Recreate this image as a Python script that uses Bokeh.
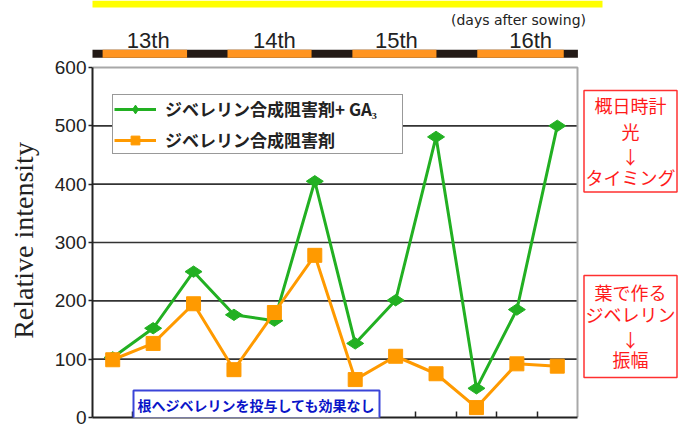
import math
from bokeh.plotting import figure
from bokeh.models import (Range1d, FixedTicker, Legend, LegendItem, Label,
                          ColumnDataSource)
from bokeh.core.properties import value
from bokeh.embed import file_html
from bokeh.resources import INLINE

# ---------------- data ----------------
series_ga3_label = "ジベレリン合成阻害剤+ GA₃"
series_inh_label = "ジベレリン合成阻害剤"
sample_index = list(range(12))
ga3_values = [103, 153, 250, 176, 166, 405, 127, 201, 481, 50, 185, 500]
inhibitor_values = [99, 127, 195, 82, 180, 278, 65, 105, 75, 17, 92, 88]
y_ticks = [0, 100, 200, 300, 400, 500, 600]
grid_ticks = [100, 200, 300, 400, 500]
boundary_ticks = [1, 2, 3, 4, 5, 6, 7, 8, 9, 10, 11]
day_labels = ["13th", "14th", "15th", "16th"]
day_label_pos = [1.38, 4.50, 7.52, 10.84]
light_on = [0.25, 3.34, 6.43, 9.52]
light_off = [2.34, 5.42, 8.51, 11.66]
bar_start, bar_end = -0.04, 12.01
note_lines_1 = ["概日時計", "光", "↓", "タイミング"]
note_lines_2 = ["葉で作る", "ジベレリン", "↓", "振幅"]
note_bottom = "根へジベレリンを投与しても効果なし"
y_axis_title = "Relative intensity"

GREEN = "#22b022"
ORANGE = "#ff9a00"
DARK = "#231a16"
RED = "#ff1a1a"

# ---------------- geometry (pixels) ----------------
W, H = 678, 429
LEFT = 92                 # left border for the y axis
BOTTOM = 12               # border below the zero line
FW, FH = W - LEFT, H - BOTTOM
PX_X = 485 / 12.0         # pixels per sample slot
PX_Y = 350 / 600.0        # pixels per intensity unit
X_END = FW / PX_X
Y_END = FH / PX_Y


def ref_y(py):
    """pixel row (from the top of the page) -> intensity units"""
    return (FH - py) / PX_Y


def ref_x(px):
    """pixel column (from the left of the page) -> slot units"""
    return (px - LEFT) / PX_X


p = figure(frame_width=FW, frame_height=FH, output_backend="svg",
           toolbar_location=None, x_range=Range1d(0, X_END),
           y_range=Range1d(0, Y_END), min_border_left=LEFT, min_border_right=0,
           min_border_top=0, min_border_bottom=BOTTOM)
p.outline_line_color = None
p.grid.visible = False
p.background_fill_color = "white"

# ---- plot frame: grid lines, top and right border
p.segment(x0=[0] * len(grid_ticks), x1=[12] * len(grid_ticks), y0=grid_ticks,
          y1=grid_ticks, line_color="#333333", line_width=1.6)
p.line(x=[0, 12, 12], y=[600, 600, 0], line_color="#a8a8a8", line_width=2)

# ---- series
xs = [i + 0.5 for i in sample_index]
src = ColumnDataSource(dict(x=xs, ga3=ga3_values, inh=inhibitor_values))
l1 = p.line("x", "ga3", source=src, line_color=GREEN, line_width=3)
m1 = p.scatter("x", "ga3", source=src, marker="diamond", angle=math.pi / 2,
               size=17, fill_color=GREEN, line_color=GREEN)
l2 = p.line("x", "inh", source=src, line_color=ORANGE, line_width=3)
m2 = p.scatter("x", "inh", source=src, marker="square", size=14,
               fill_color=ORANGE, line_color=ORANGE)

# ---- axes
p.yaxis.bounds = (0, 600)
p.yaxis.ticker = FixedTicker(ticks=y_ticks)
# trailing no-break spaces move the title down so it centres on the 0-600 span
p.yaxis.axis_label = y_axis_title + "\u00a0" * 9
p.yaxis.axis_label_text_font = "Liberation Serif"
p.yaxis.axis_label_text_font_size = "28px"
p.yaxis.axis_label_text_font_style = "normal"
p.yaxis.axis_label_text_color = "#222222"
p.yaxis.axis_label_standoff = 13
p.yaxis.major_label_text_font = "Liberation Sans"
p.yaxis.major_label_text_font_size = "19px"
p.yaxis.major_label_text_color = "#222222"
p.yaxis.major_label_standoff = 2
p.yaxis.major_tick_out = 4
p.yaxis.major_tick_in = 0
p.yaxis.minor_tick_out = 0
p.yaxis.minor_tick_in = 0
p.yaxis.axis_line_color = "#222222"
p.yaxis.axis_line_width = 2
p.yaxis.major_tick_line_color = "#222222"
p.yaxis.major_tick_line_width = 1.5

p.xaxis.bounds = (0, 12)
p.xaxis.ticker = FixedTicker(ticks=boundary_ticks)
p.xaxis.major_label_overrides = {t: "" for t in boundary_ticks}
p.xaxis.major_label_text_font_size = "8px"
p.xaxis.major_label_standoff = 0
p.xaxis.major_tick_in = 6
p.xaxis.major_tick_out = 0
p.xaxis.minor_tick_in = 0
p.xaxis.minor_tick_out = 0
p.xaxis.axis_line_color = "#222222"
p.xaxis.axis_line_width = 2
p.xaxis.major_tick_line_color = "#222222"
p.xaxis.major_tick_line_width = 1.5

# ---- light / dark bar and day labels above the chart
p.quad(left=[ref_x(87)], right=[ref_x(602)], bottom=[ref_y(7)], top=[Y_END],
       fill_color="#ffff00", line_color=None)
p.quad(left=[bar_start], right=[bar_end], bottom=[ref_y(57.3)], top=[ref_y(49.3)],
       fill_color=DARK, line_color=None)
p.quad(left=light_on, right=light_off, bottom=[ref_y(57.3)] * 4,
       top=[ref_y(49.3)] * 4, fill_color="#ff9420", line_color=None)
p.text(x=day_label_pos, y=[ref_y(40)] * 4, text=day_labels,
       text_font=value("Liberation Sans"), text_font_size="22px",
       text_color="#222222", text_align="center", text_baseline="middle")
p.text(x=[ref_x(518)], y=[ref_y(19)], text=["(days after sowing)"],
       text_font=value("DejaVu Sans"), text_font_size="14px",
       text_color="#222222", text_align="center", text_baseline="middle")

# ---- red side notes
box_x0, box_x1 = ref_x(583.5), ref_x(676.5)
p.quad(left=[box_x0, box_x0], right=[box_x1, box_x1],
       top=[ref_y(90), ref_y(275)], bottom=[ref_y(191.5), ref_y(377)],
       fill_color="white", line_color="#ff3030", line_width=1.5)
note_x = (box_x0 + box_x1) / 2
p.text(x=[note_x] * 4, y=[ref_y(v) for v in (104, 130.5, 155, 176.5)],
       text=note_lines_1, text_font=value("Noto Sans CJK JP"),
       text_font_size="18px", text_color=RED, text_align="center",
       text_baseline="middle")
p.text(x=[note_x] * 4, y=[ref_y(v) for v in (291.5, 313, 338, 358.5)],
       text=note_lines_2, text_font=value("Noto Sans CJK JP"),
       text_font_size="18px", text_color=RED, text_align="center",
       text_baseline="middle")

# ---- legend
legend = Legend(items=[
    LegendItem(label=series_ga3_label, renderers=[l1, m1]),
    LegendItem(label=series_inh_label, renderers=[l2, m2]),
], location=(20, 263))
legend.label_text_font = "Noto Sans CJK JP"
legend.label_text_font_size = "17px"
legend.label_text_font_style = "bold"
legend.label_text_color = "#222222"
legend.glyph_width = 42
legend.glyph_height = 22
legend.label_height = 22
legend.label_width = 236
legend.label_standoff = 9
legend.spacing = 6
legend.padding = 1
legend.margin = 0
legend.border_line_color = "#333333"
legend.border_line_width = 1.5
legend.background_fill_color = "white"
legend.background_fill_alpha = 1
p.add_layout(legend)

# ---- blue note box
p.add_layout(Label(x=164, y=13, x_units="screen", y_units="screen",
                   text=note_bottom,
                   text_font="Noto Sans CJK JP", text_font_size="14px",
                   text_font_style="bold", text_color="#0a14c8",
                   text_align="center", text_baseline="middle",
                   background_fill_color="white", border_line_color="#3a44d8",
                   border_line_width=2, padding=4))

open("out.html", "w").write(file_html(p, INLINE))
